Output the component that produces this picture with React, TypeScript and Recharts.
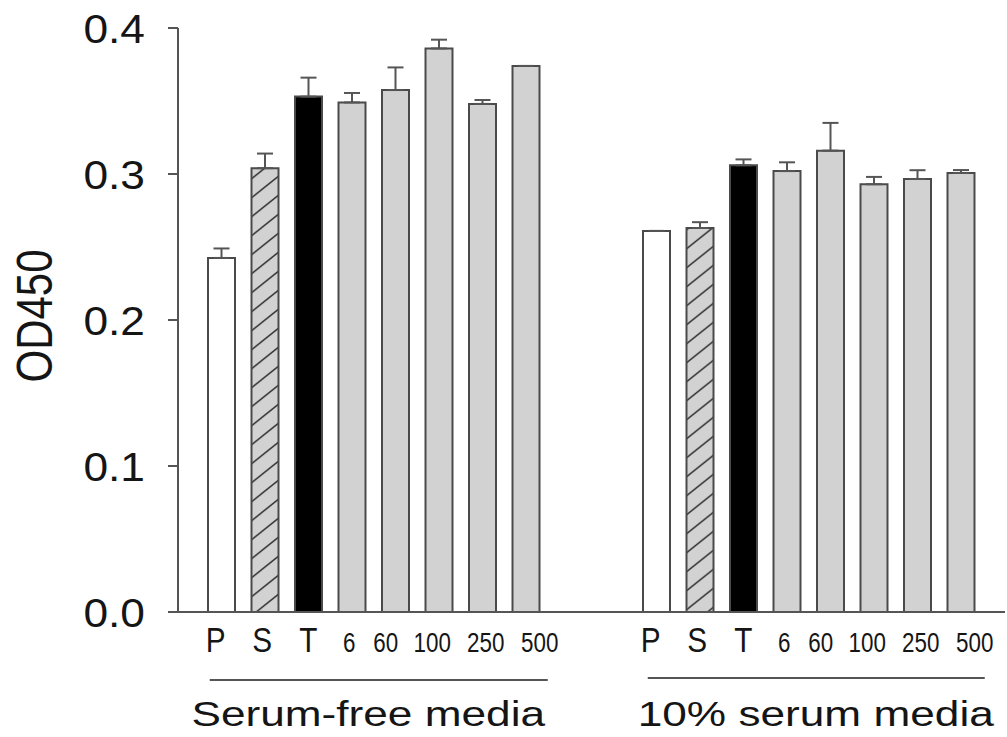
import React from 'react';
import { BarChart, Bar, XAxis, YAxis, ErrorBar, Cell } from 'recharts';

const categories = ['P', 'S', 'T', '6', '60', '100', '250', '500'];
const groupNames = ['Serum-free media', '10% serum media'];
const serumFree = [0.2425, 0.304, 0.353, 0.349, 0.3575, 0.386, 0.348, 0.374];
const serumFreeErr = [0.0065, 0.01, 0.013, 0.0065, 0.0155, 0.006, 0.0027, 0];
const serum10 = [0.261, 0.263, 0.306, 0.302, 0.316, 0.293, 0.2966, 0.3007];
const serum10Err = [0, 0.004, 0.004, 0.006, 0.019, 0.005, 0.006, 0.002];
const yTicks = [0, 0.1, 0.2, 0.3, 0.4];

const FONT = '"Liberation Sans", Arial, Helvetica, sans-serif';
const AXIS = '#555';
const TEXT = '#151515';

const fillFor = (c: string) =>
  c === 'P' ? '#ffffff' : c === 'S' ? 'url(#hatch)' : c === 'T' ? '#000000' : '#d2d2d2';

type Row = { id: string; label: string; value: number | null; err: number[]; group: number; first: boolean };

const rows: Row[] = [
  ...categories.map((c, i) => ({ id: `sf-${i}`, label: c, value: serumFree[i], err: [0, serumFreeErr[i]], group: 0, first: i === 0 })),
  { id: 'gap-1', label: '', value: null, err: [0, 0], group: -1, first: false },
  { id: 'gap-2', label: '', value: null, err: [0, 0], group: -1, first: false },
  ...categories.map((c, i) => ({ id: `s10-${i}`, label: c, value: serum10[i], err: [0, serum10Err[i]], group: 1, first: i === 0 })),
];

// label nudges (style only)
const labelDx: Record<string, number> = { P: -6, S: -3, T: -0.5, '6': -3, '60': -10, '100': -7, '250': 3, '500': 13.5 };
const groupDecor = [
  { lineFrom: -12, lineTo: 326, lineDy: 68, labelDx: 146.5 },
  { lineFrom: -9, lineTo: 328, lineDy: 66, labelDx: 159 },
];

const XTick = (props: any) => {
  const { x, y, index } = props;
  const row = rows[index];
  if (!row || !row.label) return null;
  const big = ['P', 'S', 'T'].includes(row.label);
  const dx = labelDx[row.label] ?? 0;
  const deco = row.first ? groupDecor[row.group] : null;
  return (
    <g>
      <text
        transform={`translate(${x + dx},${y + 40}) scale(${big ? 0.85 : 0.8},1)`}
        textAnchor="middle"
        fontFamily={FONT}
        fontSize={big ? 35 : 28}
        fill={TEXT}
      >
        {row.label}
      </text>
      {deco && (
        <g>
          <line x1={x + deco.lineFrom} x2={x + deco.lineTo} y1={y + deco.lineDy} y2={y + deco.lineDy} stroke={AXIS} strokeWidth={2} />
          <text
            transform={`translate(${x + deco.labelDx},${y + 114}) scale(1.3,1.03)`}
            textAnchor="middle"
            fontFamily={FONT}
            fontSize={34}
            fill={TEXT}
          >
            {groupNames[row.group]}
          </text>
        </g>
      )}
    </g>
  );
};

const YTick = (props: any) => {
  const { x, y, payload } = props;
  return (
    <text
      transform={`translate(${x},${y}) scale(1.08,1)`}
      textAnchor="end"
      dy="0.36em"
      fontFamily={FONT}
      fontSize={41}
      fill={TEXT}
    >
      {Number(payload.value).toFixed(1)}
    </text>
  );
};

const YLabel = () => (
  <text
    transform="translate(35,316) rotate(-90) scale(1,1.2)"
    textAnchor="middle"
    dominantBaseline="central"
    fontFamily={FONT}
    fontSize={42}
    fill={TEXT}
  >
    OD450
  </text>
);

export default function App() {
  return (
    <div style={{ width: 1007, height: 737, background: '#fff' }}>
      <style>{'body{margin:0;overflow:hidden;background:#fff}'}</style>
      <BarChart
        width={1007}
        height={737}
        data={rows}
        margin={{ top: 28, right: 2, bottom: 5, left: 0 }}
        barCategoryGap={0}
      >
        <defs>
          <pattern id="hatch" patternUnits="userSpaceOnUse" width={23.75} height={19}>
            <rect width={23.75} height={19} fill="#d2d2d2" />
            <path
              d="M0,19 L23.75,0 M-5.94,4.75 L5.94,-4.75 M17.81,23.75 L29.69,14.25"
              stroke="#333"
              strokeWidth={1.5}
            />
          </pattern>
        </defs>
        <XAxis
          dataKey="id"
          type="category"
          height={120}
          padding={{ left: 22, right: 22 }}
          axisLine={{ stroke: AXIS, strokeWidth: 2 }}
          tickLine={false}
          tickSize={0}
          tickMargin={0}
          interval={0}
          tick={<XTick />}
        />
        <YAxis
          width={178}
          domain={[0, 0.4]}
          ticks={yTicks}
          interval={0}
          axisLine={{ stroke: AXIS, strokeWidth: 2 }}
          tickLine={{ stroke: AXIS, strokeWidth: 2 }}
          tickSize={10}
          tickMargin={23}
          tick={<YTick />}
          label={<YLabel />}
        />
        <Bar dataKey="value" barSize={27} stroke="#4a4a4a" strokeWidth={2} isAnimationActive={false}>
          {rows.map((r) => (
            <Cell key={r.id} fill={fillFor(r.label)} />
          ))}
          <ErrorBar dataKey="err" width={8} stroke={AXIS} strokeWidth={2} direction="y" isAnimationActive={false} />
        </Bar>
      </BarChart>
    </div>
  );
}
